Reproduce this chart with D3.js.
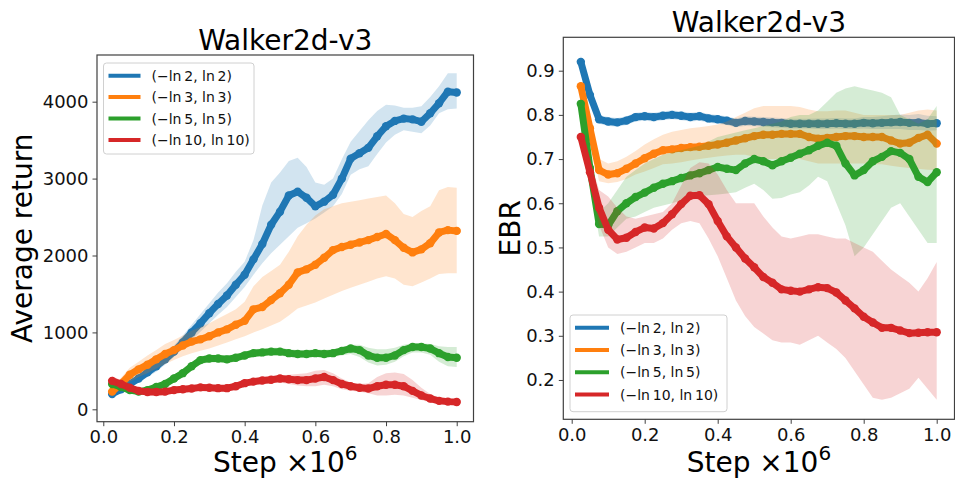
<!DOCTYPE html>
<html lang="en">
<head>
<meta charset="utf-8">
<title>Walker2d-v3</title>
<script src="https://d3js.org/d3.v7.min.js"></script>
<style>
  body { margin: 0; background: #fff; }
  svg { font-family: "DejaVu Sans", sans-serif; }
</style>
</head>
<body>
<script>
// x positions (step, x1e6)
const steps = [0.025,0.05,0.075,0.1,0.125,0.15,0.175,0.2,0.225,0.25,0.275,0.3,0.325,0.35,0.375,0.4,0.425,0.45,0.475,0.5,
               0.525,0.55,0.575,0.6,0.625,0.65,0.675,0.7,0.725,0.75,0.775,0.8,0.825,0.85,0.875,0.9,0.925,0.95,0.975,1.0];

const labels = ["(\u2212ln\u20092, ln\u20092)", "(\u2212ln\u20093, ln\u20093)", "(\u2212ln\u20095, ln\u20095)", "(\u2212ln\u200910, ln\u200910)"];
const colors = ["#1f77b4", "#ff7f0e", "#2ca02c", "#d62728"];

// left panel: average return
const retBlue   = [200,260,330,400,480,560,650,750,870,1000,1120,1250,1370,1480,1620,1750,1950,2150,2400,2570,2780,2830,2750,2640,2700,2790,3000,3260,3330,3400,3550,3680,3750,3780,3770,3740,3850,3980,4130,4120];
const retBlueLo = [170,220,290,350,420,490,580,680,790,900,1010,1120,1230,1330,1460,1590,1750,1900,2030,2140,2250,2360,2420,2480,2560,2640,2800,3050,3120,3160,3320,3470,3570,3630,3610,3590,3690,3850,3900,3910];
const retBlueHi = [240,310,380,460,550,640,730,830,960,1100,1240,1380,1520,1640,1790,1920,2200,2650,2950,3080,3230,3270,3150,2950,2920,3000,3250,3480,3620,3760,3880,3960,3950,3920,3920,3940,4060,4200,4370,4370];

const retOrange   = [230,330,450,520,580,650,720,770,830,880,910,950,1000,1040,1100,1150,1300,1330,1420,1510,1620,1780,1820,1880,1970,2070,2110,2140,2170,2200,2240,2280,2200,2100,2040,2080,2160,2300,2330,2320];
const retOrangeLo = [180,260,360,420,470,530,590,640,690,730,760,790,830,870,910,950,1000,1040,1090,1140,1220,1310,1350,1390,1440,1490,1540,1580,1620,1660,1700,1730,1700,1620,1600,1650,1700,1760,1770,1770];
const retOrangeHi = [280,410,540,620,700,770,850,900,960,1020,1070,1120,1180,1240,1300,1400,1600,1720,1800,1880,2050,2250,2400,2520,2600,2640,2680,2700,2720,2740,2760,2780,2680,2540,2500,2580,2640,2850,2890,2880];

const retGreen   = [330,290,250,230,250,290,330,400,470,560,640,660,660,650,670,700,730,740,750,750,730,720,720,730,720,730,760,790,770,700,670,670,700,770,810,810,790,730,680,670];
const retGreenLo = [290,250,210,190,210,250,290,350,420,510,590,610,610,600,620,650,680,690,700,700,680,670,670,680,670,680,700,720,680,610,570,580,620,690,740,740,710,620,560,550];
const retGreenHi = [370,330,290,270,290,330,370,450,520,610,690,710,710,700,720,750,780,790,800,800,780,770,770,780,770,780,810,840,840,800,780,780,800,840,860,860,850,820,810,810];

const retRed   = [370,330,280,240,225,225,230,250,260,270,285,280,275,275,300,340,360,375,385,400,390,380,380,400,420,380,330,300,280,270,300,320,320,300,240,180,140,110,100,95];
const retRedLo = [310,290,250,200,180,180,190,210,220,230,245,240,240,240,260,300,320,330,340,350,330,310,300,300,320,300,260,240,230,210,180,180,190,180,150,120,90,70,70,70];
const retRedHi = [430,380,320,280,270,270,270,290,300,310,325,320,315,315,340,380,400,420,430,440,450,460,470,500,510,470,400,350,330,340,420,470,480,460,380,280,200,150,130,120];

// right panel: EBR
const ebrBlue   = [0.92,0.845,0.79,0.785,0.783,0.787,0.795,0.797,0.795,0.798,0.80,0.798,0.795,0.797,0.792,0.79,0.787,0.782,0.786,0.785,0.784,0.783,0.782,0.78,0.78,0.78,0.78,0.78,0.781,0.78,0.78,0.782,0.781,0.782,0.783,0.784,0.782,0.783,0.78,0.781];
const ebrBlueLo = [0.91,0.835,0.78,0.775,0.773,0.777,0.785,0.787,0.785,0.788,0.79,0.788,0.785,0.787,0.782,0.78,0.777,0.772,0.775,0.774,0.773,0.772,0.771,0.769,0.769,0.769,0.768,0.768,0.769,0.768,0.768,0.769,0.768,0.768,0.768,0.768,0.766,0.766,0.764,0.765];
const ebrBlueHi = [0.935,0.855,0.80,0.795,0.793,0.797,0.805,0.807,0.805,0.808,0.81,0.808,0.805,0.807,0.802,0.80,0.797,0.792,0.797,0.796,0.795,0.794,0.793,0.791,0.791,0.791,0.792,0.792,0.793,0.792,0.792,0.795,0.795,0.797,0.799,0.801,0.80,0.802,0.798,0.797];

const ebrOrange   = [0.865,0.77,0.675,0.665,0.668,0.678,0.69,0.702,0.712,0.72,0.722,0.725,0.727,0.728,0.73,0.733,0.737,0.742,0.747,0.752,0.755,0.755,0.757,0.757,0.757,0.75,0.746,0.748,0.75,0.752,0.752,0.75,0.75,0.75,0.742,0.735,0.737,0.748,0.755,0.735];
const ebrOrangeLo = [0.855,0.75,0.65,0.645,0.648,0.655,0.665,0.672,0.68,0.688,0.69,0.693,0.697,0.70,0.703,0.706,0.708,0.71,0.71,0.705,0.70,0.70,0.70,0.70,0.70,0.695,0.69,0.69,0.69,0.69,0.69,0.69,0.688,0.688,0.685,0.682,0.68,0.678,0.676,0.675];
const ebrOrangeHi = [0.875,0.79,0.70,0.69,0.695,0.705,0.718,0.733,0.745,0.755,0.762,0.766,0.77,0.772,0.775,0.778,0.785,0.795,0.805,0.815,0.82,0.82,0.82,0.82,0.818,0.812,0.808,0.808,0.81,0.81,0.805,0.80,0.80,0.80,0.80,0.80,0.805,0.81,0.812,0.81];

const ebrGreen   = [0.825,0.68,0.553,0.55,0.582,0.60,0.614,0.624,0.635,0.644,0.65,0.657,0.663,0.668,0.675,0.682,0.678,0.675,0.69,0.70,0.695,0.686,0.695,0.703,0.712,0.72,0.73,0.737,0.73,0.69,0.663,0.675,0.695,0.705,0.718,0.714,0.70,0.66,0.648,0.67];
const ebrGreenLo = [0.81,0.65,0.525,0.525,0.545,0.565,0.57,0.58,0.59,0.595,0.60,0.607,0.614,0.616,0.618,0.62,0.622,0.625,0.635,0.644,0.63,0.61,0.612,0.62,0.625,0.64,0.66,0.65,0.60,0.55,0.48,0.50,0.53,0.56,0.59,0.60,0.57,0.54,0.51,0.51];
const ebrGreenHi = [0.84,0.70,0.58,0.60,0.63,0.66,0.675,0.69,0.70,0.71,0.715,0.72,0.725,0.73,0.74,0.75,0.755,0.76,0.765,0.77,0.775,0.78,0.785,0.795,0.80,0.80,0.81,0.83,0.85,0.86,0.865,0.86,0.855,0.85,0.84,0.80,0.79,0.78,0.79,0.82];

const ebrRed   = [0.75,0.67,0.59,0.54,0.518,0.522,0.535,0.545,0.543,0.555,0.575,0.598,0.617,0.618,0.598,0.56,0.525,0.50,0.475,0.455,0.433,0.42,0.405,0.402,0.40,0.405,0.41,0.408,0.398,0.38,0.362,0.343,0.33,0.318,0.318,0.312,0.306,0.307,0.308,0.308];
const ebrRedLo = [0.74,0.64,0.55,0.50,0.485,0.49,0.50,0.51,0.51,0.52,0.54,0.555,0.56,0.555,0.52,0.48,0.43,0.38,0.345,0.32,0.305,0.29,0.285,0.285,0.28,0.29,0.30,0.285,0.27,0.25,0.22,0.19,0.16,0.155,0.16,0.17,0.18,0.205,0.18,0.155];
const ebrRedHi = [0.76,0.70,0.63,0.615,0.59,0.57,0.565,0.57,0.575,0.58,0.60,0.64,0.68,0.693,0.69,0.665,0.63,0.60,0.60,0.60,0.57,0.545,0.525,0.52,0.525,0.53,0.53,0.525,0.52,0.52,0.51,0.50,0.49,0.47,0.45,0.435,0.42,0.40,0.43,0.467];

const xTicks = [0, 0.2, 0.4, 0.6, 0.8, 1.0];
const retTicks = [0, 1000, 2000, 3000, 4000];
const ebrTicks = [0.2, 0.3, 0.4, 0.5, 0.6, 0.7, 0.8, 0.9];

const svg = d3.select("body").append("svg")
    .attr("width", 955)
    .attr("height", 480);

function drawPanel(p) {
    const x = d3.scaleLinear().domain(p.xDomain).range([p.left, p.right]);
    const y = d3.scaleLinear().domain(p.yDomain).range([p.bottom, p.top]);
    const g = svg.append("g");

    const area = d3.area()
        .x((d, i) => x(steps[i]))
        .y0(d => y(d[0]))
        .y1(d => y(d[1]));
    const line = d3.line()
        .x((d, i) => x(steps[i]))
        .y(d => y(d));

    p.series.forEach((s, k) => {
        const band = s.lo.map((v, i) => [v, s.hi[i]]);
        g.append("path")
            .attr("d", area(band))
            .attr("fill", colors[k])
            .attr("fill-opacity", 0.2);
        g.append("path")
            .attr("d", line(s.mean))
            .attr("fill", "none")
            .attr("stroke", colors[k])
            .attr("stroke-width", 7)
            .attr("stroke-linejoin", "round")
            .attr("stroke-linecap", "round");
        g.selectAll(null)
            .data(s.mean)
            .enter()
            .append("circle")
            .attr("cx", (d, i) => x(steps[i]))
            .attr("cy", d => y(d))
            .attr("r", 4.2)
            .attr("fill", colors[k]);
    });

    // frame
    g.append("rect")
        .attr("x", p.left).attr("y", p.top)
        .attr("width", p.right - p.left).attr("height", p.bottom - p.top)
        .attr("fill", "none").attr("stroke", "#404040").attr("stroke-width", 1.2);

    const xAxis = g.append("g")
        .attr("transform", `translate(0,${p.bottom})`)
        .call(d3.axisBottom(x).tickValues(xTicks).tickFormat(d3.format(".1f")).tickSize(4.5).tickPadding(4));
    const yAxis = g.append("g")
        .attr("transform", `translate(${p.left},0)`)
        .call(d3.axisLeft(y).tickValues(p.yTicks).tickFormat(p.yFormat).tickSize(4.5).tickPadding(4));
    [xAxis, yAxis].forEach(a => {
        a.select(".domain").remove();
        a.selectAll("line").attr("stroke", "#404040");
        a.selectAll("text").attr("font-size", "18px").attr("fill", "#111")
            .style("font-family", "DejaVu Sans, sans-serif");
    });

    // title
    g.append("text")
        .attr("x", (p.left + p.right) / 2).attr("y", p.top - 5)
        .attr("text-anchor", "middle")
        .attr("font-size", "28px").attr("fill", "#000")
        .text("Walker2d-v3");

    // x label
    const xl = g.append("text")
        .attr("x", (p.left + p.right) / 2).attr("y", 472)
        .attr("text-anchor", "middle")
        .attr("font-size", "28px").attr("fill", "#000")
        .text("Step \u00d710");
    xl.append("tspan").attr("dy", -12).attr("font-size", "20px").text("6");

    // y label
    g.append("text")
        .attr("transform", `translate(${p.yLabelX},${(p.top + p.bottom) / 2}) rotate(-90)`)
        .attr("text-anchor", "middle")
        .attr("font-size", "28px").attr("fill", "#000")
        .text(p.yLabel);

    // legend
    const lg = g.append("g").attr("transform", `translate(${p.legend.x},${p.legend.y})`);
    lg.append("rect")
        .attr("width", p.legend.w).attr("height", p.legend.h)
        .attr("rx", 3)
        .attr("fill", "#fff").attr("fill-opacity", 0.8)
        .attr("stroke", "#d0d0d0");
    labels.forEach((t, k) => {
        const cy = 12.7 + k * p.legend.row;
        lg.append("line")
            .attr("x1", 5).attr("x2", 5 + p.legend.handle)
            .attr("y1", cy).attr("y2", cy)
            .attr("stroke", colors[k]).attr("stroke-width", 4);
        lg.append("text")
            .attr("x", p.legend.handle + 16).attr("y", cy + 5)
            .attr("font-size", "14px").attr("fill", "#111")
            .text(t);
    });
}

drawPanel({
    left: 97, right: 473.5, top: 55, bottom: 421.7,
    xDomain: [-0.0178, 1.0475], yDomain: [-161, 4607],
    yTicks: retTicks, yFormat: d3.format("d"),
    yLabel: "Average return", yLabelX: 32,
    series: [
        {mean: retBlue, lo: retBlueLo, hi: retBlueHi},
        {mean: retOrange, lo: retOrangeLo, hi: retOrangeHi},
        {mean: retGreen, lo: retGreenLo, hi: retGreenHi},
        {mean: retRed, lo: retRedLo, hi: retRedHi}
    ],
    legend: {x: 103.5, y: 63, w: 150.5, h: 91, row: 21.4, handle: 32}
});

drawPanel({
    left: 563.3, right: 954.5, top: 37.3, bottom: 419.3,
    xDomain: [-0.023, 1.0488], yDomain: [0.111, 0.9756],
    yTicks: ebrTicks, yFormat: d3.format(".1f"),
    yLabel: "EBR", yLabelX: 520,
    series: [
        {mean: ebrBlue, lo: ebrBlueLo, hi: ebrBlueHi},
        {mean: ebrOrange, lo: ebrOrangeLo, hi: ebrOrangeHi},
        {mean: ebrGreen, lo: ebrGreenLo, hi: ebrGreenHi},
        {mean: ebrRed, lo: ebrRedLo, hi: ebrRedHi}
    ],
    legend: {x: 570, y: 315, w: 157, h: 96.7, row: 22.3, handle: 34}
});
</script>
</body>
</html>
